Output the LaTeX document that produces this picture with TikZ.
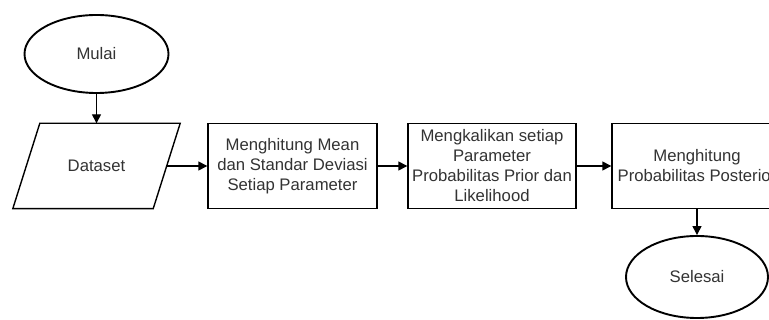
\documentclass[tikz,border=0pt]{standalone}
\usepackage{fontspec}
\setmainfont{Liberation Sans}
\usetikzlibrary{arrows.meta,shapes.geometric}
\definecolor{txt}{HTML}{333333}
\tikzset{
  lbl/.style={align=center,text=txt,font=\fontsize{16.7pt}{20pt}\selectfont,inner sep=0pt},
  term/.style={lbl,ellipse,draw=black,line width=1.9pt,minimum width=#1},
  proc/.style={lbl,draw=black,line width=1.4pt,minimum height=85pt},
  arr/.style={line width=1.4pt,-{Triangle[length=9pt,width=9pt]}}
}
\begin{document}
\begin{tikzpicture}[x=1pt,y=-1pt]
\useasboundingbox (0,0) rectangle (769,320);
\clip (0,0) rectangle (769,320);
\fill[white] (0,0) rectangle (769,320);
\node[term=144pt,minimum height=78pt] (mulai) at (96.5,54) {Mulai};
\node[lbl,minimum width=140pt,minimum height=85pt] (ds) at (96.5,166) {Dataset};
\draw[line width=1.4pt] ([xshift=13.5pt]ds.north west) -- ([xshift=13.5pt]ds.north east)
  -- ([xshift=-13.5pt]ds.south east) -- ([xshift=-13.5pt]ds.south west) -- cycle;
\node[proc,minimum width=169pt] (p1) at (292.5,166) {Menghitung Mean\\dan Standar Deviasi\\Setiap Parameter};
\node[proc,minimum width=168pt] (p2) at (492,166) {Mengkalikan setiap\\Parameter\\Probabilitas Prior dan\\Likelihood};
\node[proc,minimum width=170pt] (p3) at (697,166) {Menghitung\\Probabilitas Posterior};
\node[term=142pt,minimum height=82pt] (selesai) at (697,277) {Selesai};
\draw[arr] (mulai) -- (ds.north);
\draw[arr] (ds.east) -- (p1.west);
\draw[arr] (p1.east) -- (p2.west);
\draw[arr] (p2.east) -- (p3.west);
\draw[arr] (p3.south) -- (selesai.north);
\end{tikzpicture}
\end{document}
